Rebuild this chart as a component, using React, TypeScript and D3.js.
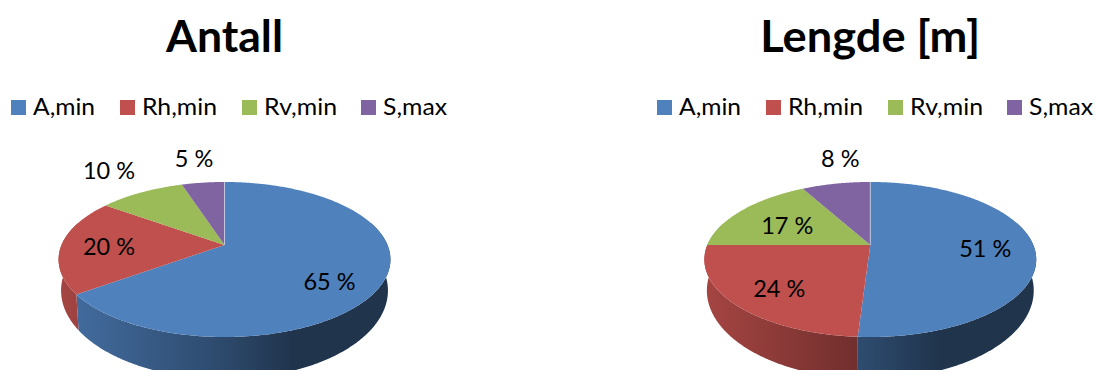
import React from "react";
import * as d3 from "d3";

// Series shared by both pies, and the share each one holds per chart.
const categories = ["A,min", "Rh,min", "Rv,min", "S,max"];
const colors = ["#4f81bd", "#c0504d", "#9bbb59", "#8064a2"];
const antallValues = [65, 20, 10, 5];
const lengdeValues = [51, 24, 17, 8];

const WIDTH = 1097;
const HEIGHT = 370;
const FONT = "Lato, 'Open Sans', sans-serif";

// Projective disc: radius, vertical foreshortening and perspective strength.
const RADIUS = 163;
const SQUASH = 74.8;
const PERSPECTIVE = 0.187;
const APEX_Y = 245;

// The lower rim of the wall is a narrower, vertically stretched copy of the disc.
const WALL_DROP = 29;
const WALL_SCALE_X = 0.985;
const WALL_SCALE_Y = 1.14;

// Legend columns, relative to the chart's left edge.
const legendSwatchX = [11, 120, 242, 361];
const legendTextWidth = [62, 75, 73, 64];
const legendTextGap = 22;

// Brightness of the side wall across the pie, from its left rim to its right.
const wallShade = d3
  .scaleLinear<number>()
  .domain([-165, -8, 70, 165])
  .range([0.86, 0.58, 0.4, 0.4]);

type PieConfig = {
  id: string;
  title: string;
  titleWidth: number;
  values: number[];
  cx: number;
  legendOffset: number;
  labelAnchors: [number, number][];
};

const charts: PieConfig[] = [
  {
    id: "antall",
    title: "Antall",
    titleWidth: 117,
    values: antallValues,
    cx: 224.5,
    legendOffset: 0,
    labelAnchors: [
      [105, 36],
      [-115.5, 1],
      [-115.5, -75],
      [-30.5, -87],
    ],
  },
  {
    id: "lengde",
    title: "Lengde [m]",
    titleWidth: 220,
    values: lengdeValues,
    cx: 870.3,
    legendOffset: 646,
    labelAnchors: [
      [115, 3],
      [-91, 43],
      [-83, -20],
      [-30, -87],
    ],
  },
];

// Maps a clockwise-from-top angle on to the page, on the disc or on the wall's lower rim.
function project(cx: number, angle: number, sx = 1, sy = 1, drop = 0): [number, number] {
  const u = Math.sin(angle);
  const v = Math.cos(angle);
  const w = 1 + PERSPECTIVE * v;
  return [cx + (sx * RADIUS * u) / w, APEX_Y + drop - (sy * SQUASH * v) / w];
}

const outline = d3.line();

function arcPoints(cx: number, a0: number, a1: number, sx = 1, sy = 1, drop = 0) {
  const steps = Math.max(2, Math.ceil(Math.abs(a1 - a0) / 0.01));
  return d3.range(steps + 1).map((i) => project(cx, a0 + ((a1 - a0) * i) / steps, sx, sy, drop));
}

function PieChart({ chart }: { chart: PieConfig }) {
  const { cx, id } = chart;
  const slices = d3
    .pie<number>()
    .sort(null)
    .startAngle(0)
    .endAngle(2 * Math.PI)(chart.values);

  // Only the near half of the rim shows a wall, with a margin for the silhouette.
  const frontStart = Math.PI * 0.4;
  const frontEnd = Math.PI * 1.6;

  return (
    <g>
      <defs>
        {slices.map((s, i) => (
          <linearGradient
            key={i}
            id={`${id}-wall-${i}`}
            gradientUnits="userSpaceOnUse"
            x1={cx - 165}
            x2={cx + 165}
            y1={0}
            y2={0}
          >
            {wallShade.domain().map((d) => {
              const base = d3.rgb(colors[i]);
              const k = wallShade(d);
              return (
                <stop
                  key={d}
                  offset={(d + 165) / 330}
                  stopColor={d3.rgb(base.r * k, base.g * k, base.b * k).formatHex()}
                />
              );
            })}
          </linearGradient>
        ))}
      </defs>

      <text
        x={cx}
        y={52}
        textAnchor="middle"
        fontFamily={FONT}
        fontWeight={700}
        fontSize={43}
        textLength={chart.titleWidth}
        lengthAdjust="spacingAndGlyphs"
        fill="#000"
      >
        {chart.title}
      </text>

      {categories.map((name, i) => (
        <g key={name}>
          <rect
            x={legendSwatchX[i] + chart.legendOffset}
            y={100}
            width={15}
            height={15}
            fill={colors[i]}
          />
          <text
            x={legendSwatchX[i] + chart.legendOffset + legendTextGap}
            y={115}
            fontFamily={FONT}
            fontSize={23.5}
            textLength={legendTextWidth[i]}
            lengthAdjust="spacingAndGlyphs"
            fill="#000"
          >
            {name}
          </text>
        </g>
      ))}

      {slices.map((s, i) => {
        const a0 = Math.max(s.startAngle, frontStart);
        const a1 = Math.min(s.endAngle, frontEnd);
        if (a1 <= a0) return null;
        const top = arcPoints(cx, a0, a1);
        const bottom = arcPoints(cx, a1, a0, WALL_SCALE_X, WALL_SCALE_Y, WALL_DROP);
        return (
          <path
            key={i}
            d={`${outline([...top, ...bottom])}Z`}
            fill={`url(#${id}-wall-${i})`}
          />
        );
      })}

      {slices.map((s, i) => (
        <path
          key={i}
          d={`${outline([[cx, APEX_Y], ...arcPoints(cx, s.startAngle, s.endAngle)])}Z`}
          fill={colors[i]}
        />
      ))}

      {/* Pale seam where the last slice meets the first */}
      <line
        x1={cx}
        x2={cx}
        y1={APEX_Y}
        y2={project(cx, 0)[1]}
        stroke="#c9d4e4"
        strokeWidth={0.8}
      />

      {chart.values.map((v, i) => (
        <text
          key={i}
          x={cx + chart.labelAnchors[i][0]}
          y={APEX_Y + chart.labelAnchors[i][1] + 8.5}
          textAnchor="middle"
          fontFamily={FONT}
          fontSize={23.5}
          fill="#000"
        >
          {`${v} %`}
        </text>
      ))}
    </g>
  );
}

export default function App() {
  return (
    <svg
      width={WIDTH}
      height={HEIGHT}
      viewBox={`0 0 ${WIDTH} ${HEIGHT}`}
      style={{ position: "absolute", left: 0, top: 0, background: "#fff" }}
    >
      {charts.map((c) => (
        <PieChart key={c.id} chart={c} />
      ))}
    </svg>
  );
}
